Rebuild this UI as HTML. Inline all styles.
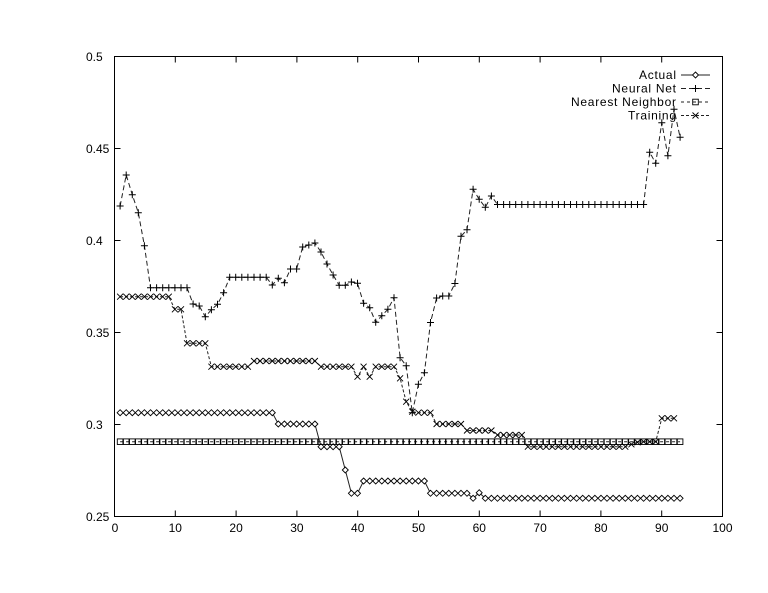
<!DOCTYPE html>
<html><head><meta charset="utf-8"><style>
html,body{margin:0;padding:0;background:#fff;}
svg{display:block;}
text{font-family:"Liberation Sans",sans-serif;font-size:12px;fill:#000;}
</style></head><body>
<svg width="768" height="593" viewBox="0 0 768 593" xmlns="http://www.w3.org/2000/svg">
<defs>
<marker id="dm" markerUnits="userSpaceOnUse" markerWidth="10" markerHeight="10" viewBox="-5 -5 10 10" refX="0" refY="0" overflow="visible"><path d="M0,-3 L3,0 L0,3 L-3,0 Z" fill="#fff" stroke="#000" stroke-width="0.9"/></marker>
<marker id="pl" markerUnits="userSpaceOnUse" markerWidth="10" markerHeight="10" viewBox="-5 -5 10 10" refX="0" refY="0" overflow="visible"><path d="M-3.5,0 H3.5 M0,-3.5 V3.5" fill="none" stroke="#000" stroke-width="1"/></marker>
<marker id="sq" markerUnits="userSpaceOnUse" markerWidth="10" markerHeight="10" viewBox="-5 -5 10 10" refX="0" refY="0" overflow="visible"><rect x="-2.8" y="-2.8" width="5.6" height="5.6" fill="none" stroke="#000" stroke-width="0.9"/></marker>
<marker id="xx" markerUnits="userSpaceOnUse" markerWidth="10" markerHeight="10" viewBox="-5 -5 10 10" refX="0" refY="0" overflow="visible"><path d="M-3,-3 L3,3 M-3,3 L3,-3" fill="none" stroke="#000" stroke-width="0.9"/></marker>
</defs>
<rect width="768" height="593" fill="#fff"/>
<rect x="114.5" y="56.5" width="608" height="460" fill="none" stroke="#000" stroke-width="1"/>
<g stroke="#000" stroke-width="1">
<path d="M114.5,148.5 h6 M114.5,240.5 h6 M114.5,332.5 h6 M114.5,424.5 h6 M722.5,148.5 h-6 M722.5,240.5 h-6 M722.5,332.5 h-6 M722.5,424.5 h-6"/>
<path d="M175.3,516.5 v-6 M236.1,516.5 v-6 M296.9,516.5 v-6 M357.7,516.5 v-6 M418.5,516.5 v-6 M479.3,516.5 v-6 M540.1,516.5 v-6 M600.9,516.5 v-6 M661.7,516.5 v-6 M175.3,56.5 v6 M236.1,56.5 v6 M296.9,56.5 v6 M357.7,56.5 v6 M418.5,56.5 v6 M479.3,56.5 v6 M540.1,56.5 v6 M600.9,56.5 v6 M661.7,56.5 v6"/>
</g>
<text x="86" y="61">0.5</text>
<text x="86" y="153">0.45</text>
<text x="86" y="245">0.4</text>
<text x="86" y="337">0.35</text>
<text x="86" y="429">0.3</text>
<text x="86" y="521">0.25</text>
<g text-anchor="middle">
<text x="115" y="532">0</text>
<text x="175.3" y="532">10</text>
<text x="236.1" y="532">20</text>
<text x="296.9" y="532">30</text>
<text x="357.7" y="532">40</text>
<text x="418.5" y="532">50</text>
<text x="479.3" y="532">60</text>
<text x="540.1" y="532">70</text>
<text x="600.9" y="532">80</text>
<text x="661.7" y="532">90</text>
<text x="722.5" y="532">100</text>
</g>
<polyline fill="none" stroke="#222" stroke-width="1" marker-start="url(#dm)" marker-mid="url(#dm)" marker-end="url(#dm)" points="120.1,412.7 126.2,412.7 132.3,412.7 138.3,412.7 144.4,412.7 150.5,412.7 156.6,412.7 162.7,412.7 168.8,412.7 174.9,412.7 181,412.7 187,412.7 193.1,412.7 199.2,412.7 205.3,412.7 211.4,412.7 217.5,412.7 223.6,412.7 229.7,412.7 235.7,412.7 241.8,412.7 247.9,412.7 254,412.7 260.1,412.7 266.2,412.7 272.3,412.7 278.3,424 284.4,424 290.5,424 296.6,424 302.7,424 308.8,424 314.9,424 321,446.7 327,446.7 333.1,446.7 339.2,446.7 345.3,470 351.4,493.3 357.5,493.3 363.6,481 369.7,481 375.7,481 381.8,481 387.9,481 394,481 400.1,481 406.2,481 412.3,481 418.4,481 424.4,481 430.5,493.3 436.6,493.3 442.7,493.3 448.8,493.3 454.9,493.3 461,493.3 467,493.3 473.1,498.3 479.2,492.7 485.3,498.3 491.4,498.3 497.5,498.3 503.6,498.3 509.7,498.3 515.7,498.3 521.8,498.3 527.9,498.3 534,498.3 540.1,498.3 546.2,498.3 552.3,498.3 558.4,498.3 564.4,498.3 570.5,498.3 576.6,498.3 582.7,498.3 588.8,498.3 594.9,498.3 601,498.3 607,498.3 613.1,498.3 619.2,498.3 625.3,498.3 631.4,498.3 637.5,498.3 643.6,498.3 649.7,498.3 655.7,498.3 661.8,498.3 667.9,498.3 674,498.3 680.1,498.3"/>
<polyline fill="none" stroke="#222" stroke-width="1" stroke-dasharray="5,3" marker-start="url(#pl)" marker-mid="url(#pl)" marker-end="url(#pl)" points="120.1,206 126.2,175 132.3,194.7 138.3,212.7 144.4,245.7 150.5,287.7 156.6,287.7 162.7,287.7 168.8,287.7 174.9,287.7 181,287.7 187,287.7 193.1,304 199.2,306 205.3,316.7 211.4,309.7 217.5,304.3 223.6,292.7 229.7,277.3 235.7,277.3 241.8,277.3 247.9,277.3 254,277.3 260.1,277.3 266.2,277.3 272.3,285 278.3,278.3 284.4,282.7 290.5,269 296.6,269 302.7,247 308.8,245 314.9,243 321,252 327,264 333.1,275 339.2,285.3 345.3,285.3 351.4,282 357.5,283.3 363.6,303.3 369.7,307.7 375.7,322.3 381.8,315.7 387.9,309.3 394,297.7 400.1,357.7 406.2,365.7 412.3,412.7 418.4,384.3 424.4,372.7 430.5,322.5 436.6,298 442.7,296 448.8,296 454.9,283.5 461,236.3 467,229.7 473.1,189.3 479.2,199.3 485.3,207.3 491.4,196 497.5,204.5 503.6,204.5 509.7,204.5 515.7,204.5 521.8,204.5 527.9,204.5 534,204.5 540.1,204.5 546.2,204.5 552.3,204.5 558.4,204.5 564.4,204.5 570.5,204.5 576.6,204.5 582.7,204.5 588.8,204.5 594.9,204.5 601,204.5 607,204.5 613.1,204.5 619.2,204.5 625.3,204.5 631.4,204.5 637.5,204.5 643.6,204.5 649.7,152.3 655.7,163.3 661.8,122.7 667.9,155.7 674,109.3 680.1,137.3"/>
<polyline fill="none" stroke="#222" stroke-width="1" stroke-dasharray="3,3" marker-start="url(#sq)" marker-mid="url(#sq)" marker-end="url(#sq)" points="120.1,441.7 126.2,441.7 132.3,441.7 138.3,441.7 144.4,441.7 150.5,441.7 156.6,441.7 162.7,441.7 168.8,441.7 174.9,441.7 181,441.7 187,441.7 193.1,441.7 199.2,441.7 205.3,441.7 211.4,441.7 217.5,441.7 223.6,441.7 229.7,441.7 235.7,441.7 241.8,441.7 247.9,441.7 254,441.7 260.1,441.7 266.2,441.7 272.3,441.7 278.3,441.7 284.4,441.7 290.5,441.7 296.6,441.7 302.7,441.7 308.8,441.7 314.9,441.7 321,441.7 327,441.7 333.1,441.7 339.2,441.7 345.3,441.7 351.4,441.7 357.5,441.7 363.6,441.7 369.7,441.7 375.7,441.7 381.8,441.7 387.9,441.7 394,441.7 400.1,441.7 406.2,441.7 412.3,441.7 418.4,441.7 424.4,441.7 430.5,441.7 436.6,441.7 442.7,441.7 448.8,441.7 454.9,441.7 461,441.7 467,441.7 473.1,441.7 479.2,441.7 485.3,441.7 491.4,441.7 497.5,441.7 503.6,441.7 509.7,441.7 515.7,441.7 521.8,441.7 527.9,441.7 534,441.7 540.1,441.7 546.2,441.7 552.3,441.7 558.4,441.7 564.4,441.7 570.5,441.7 576.6,441.7 582.7,441.7 588.8,441.7 594.9,441.7 601,441.7 607,441.7 613.1,441.7 619.2,441.7 625.3,441.7 631.4,441.7 637.5,441.7 643.6,441.7 649.7,441.7 655.7,441.7 661.8,441.7 667.9,441.7 674,441.7 680.1,441.7"/>
<polyline fill="none" stroke="#222" stroke-width="1" stroke-dasharray="3,2" marker-start="url(#xx)" marker-mid="url(#xx)" marker-end="url(#xx)" points="120.1,296.7 126.2,296.7 132.3,296.7 138.3,296.7 144.4,296.7 150.5,296.7 156.6,296.7 162.7,296.7 168.8,296.7 174.9,309.3 181,309.3 187,343.3 193.1,343.3 199.2,343.3 205.3,343.3 211.4,366.7 217.5,366.7 223.6,366.7 229.7,366.7 235.7,366.7 241.8,366.7 247.9,366.7 254,361 260.1,361 266.2,361 272.3,361 278.3,361 284.4,361 290.5,361 296.6,361 302.7,361 308.8,361 314.9,361 321,366.7 327,366.7 333.1,366.7 339.2,366.7 345.3,366.7 351.4,366.7 357.5,376.7 363.6,366.7 369.7,376.7 375.7,366.7 381.8,366.7 387.9,366.7 394,366.7 400.1,378.3 406.2,401.7 412.3,411.7 418.4,412.7 424.4,412.7 430.5,412.7 436.6,424 442.7,424 448.8,424 454.9,424 461,424 467,430.5 473.1,430.5 479.2,430.5 485.3,430.5 491.4,430.5 497.5,435 503.6,435 509.7,435 515.7,435 521.8,435 527.9,446.7 534,446.7 540.1,446.7 546.2,446.7 552.3,446.7 558.4,446.7 564.4,446.7 570.5,446.7 576.6,446.7 582.7,446.7 588.8,446.7 594.9,446.7 601,446.7 607,446.7 613.1,446.7 619.2,446.7 625.3,446.7 631.4,444.3 637.5,442.3 643.6,441.7 649.7,441.7 655.7,441.7 661.8,418.3 667.9,418.3 674,418.3"/>
<g text-anchor="end">
<text x="676" y="79" textLength="37" lengthAdjust="spacing">Actual</text>
<text x="676" y="92.5" textLength="64" lengthAdjust="spacing">Neural Net</text>
<text x="676" y="106" textLength="105" lengthAdjust="spacing">Nearest Neighbor</text>
<text x="676" y="119.5" textLength="48" lengthAdjust="spacing">Training</text>
</g>
<polyline fill="none" stroke="#222" stroke-width="1" marker-mid="url(#dm)" points="681,75 695.5,75 710,75"/>
<polyline fill="none" stroke="#222" stroke-width="1" stroke-dasharray="5,3" marker-mid="url(#pl)" points="681,88.5 695.5,88.5 710,88.5"/>
<polyline fill="none" stroke="#222" stroke-width="1" stroke-dasharray="3,3" marker-mid="url(#sq)" points="681,102 695.5,102 710,102"/>
<polyline fill="none" stroke="#222" stroke-width="1" stroke-dasharray="3,2" marker-mid="url(#xx)" points="681,115.5 695.5,115.5 710,115.5"/>
</svg>
</body></html>
